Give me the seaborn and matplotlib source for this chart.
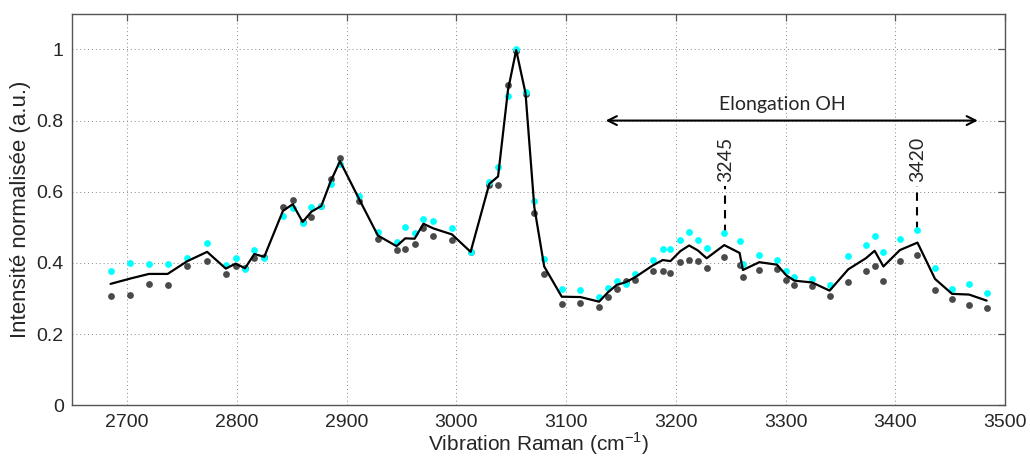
import numpy as np
import pandas as pd
import seaborn as sns
import matplotlib.pyplot as plt

# Raman shift (cm-1)
wavenumber = [2685, 2703, 2720, 2737, 2755, 2773, 2790, 2799, 2807.5, 2816,
              2825, 2842, 2851, 2860, 2868, 2877, 2885.5, 2894, 2911, 2928.5,
              2945.5, 2953.5, 2962, 2970, 2979, 2996, 3013, 3030, 3038, 3047,
              3054.5, 3063, 3071, 3080, 3096, 3113, 3130, 3138, 3146, 3154.5,
              3163, 3179, 3188, 3195, 3204, 3212, 3220, 3228, 3244, 3258,
              3261, 3276, 3292, 3300.5, 3308, 3324, 3340, 3357, 3373, 3381,
              3389, 3404, 3420, 3436, 3451.5, 3467, 3483]

# cyan points
spectre_a = [0.377, 0.401, 0.396, 0.396, 0.415, 0.457, 0.395, 0.415, 0.384, 0.436,
             0.415, 0.531, 0.553, 0.513, 0.558, 0.560, 0.622, 0.677, 0.589, 0.487,
             0.458, 0.500, 0.484, 0.522, 0.518, 0.497, 0.431, 0.627, 0.669, 0.870,
             1.000, 0.880, 0.575, 0.410, 0.326, 0.323, 0.304, 0.330, 0.349, 0.342,
             0.368, 0.408, 0.439, 0.439, 0.464, 0.488, 0.464, 0.441, 0.483, 0.462,
             0.398, 0.423, 0.408, 0.377, 0.361, 0.354, 0.337, 0.420, 0.451, 0.475,
             0.431, 0.467, 0.492, 0.385, 0.326, 0.342, 0.314]

# dark grey points
spectre_b = [0.306, 0.310, 0.341, 0.337, 0.391, 0.405, 0.369, 0.391, 0.385, 0.415,
             0.417, 0.558, 0.577, 0.515, 0.530, 0.560, 0.636, 0.694, 0.574, 0.466,
             0.436, 0.438, 0.452, 0.499, 0.475, 0.463, 0.431, 0.618, 0.618, 0.900,
             0.995, 0.875, 0.539, 0.370, 0.284, 0.286, 0.277, 0.304, 0.328, 0.350,
             0.351, 0.377, 0.377, 0.371, 0.402, 0.409, 0.406, 0.385, 0.417, 0.395,
             0.361, 0.380, 0.382, 0.352, 0.338, 0.335, 0.307, 0.345, 0.376, 0.392,
             0.349, 0.404, 0.423, 0.325, 0.299, 0.281, 0.274]

# black line
moyenne = [0.341, 0.356, 0.369, 0.369, 0.405, 0.431, 0.384, 0.398, 0.385, 0.425,
           0.417, 0.546, 0.565, 0.515, 0.544, 0.560, 0.629, 0.686, 0.582, 0.477,
           0.447, 0.469, 0.468, 0.510, 0.497, 0.480, 0.431, 0.622, 0.643, 0.885,
           0.998, 0.877, 0.557, 0.390, 0.305, 0.304, 0.291, 0.317, 0.338, 0.346,
           0.360, 0.393, 0.408, 0.405, 0.433, 0.449, 0.435, 0.413, 0.450, 0.428,
           0.380, 0.402, 0.395, 0.365, 0.350, 0.345, 0.322, 0.382, 0.413, 0.434,
           0.390, 0.436, 0.457, 0.355, 0.313, 0.311, 0.294]

pics = [3245, 3420]
pics_y = [0.483, 0.492]

df = pd.DataFrame({'x': wavenumber, 'a': spectre_a, 'b': spectre_b, 'm': moyenne})

sns.set_style("white")
plt.rcParams['font.family'] = ['Liberation Sans', 'DejaVu Sans']

fig = plt.figure(figsize=(10.3, 4.61), dpi=100)
ax = fig.add_axes([0.07, 0.121, 0.906, 0.849])

sns.scatterplot(data=df, x='x', y='b', color='#4a4a4a', s=24, linewidth=0, ax=ax, zorder=3)
sns.scatterplot(data=df, x='x', y='a', color='#00ffff', s=24, linewidth=0, ax=ax, zorder=3)
sns.lineplot(data=df, x='x', y='m', color='black', linewidth=1.6, sort=False,
             estimator=None, ax=ax, zorder=4)

ax.set_xlim(2650, 3500)
ax.set_ylim(0, 1.1)
ax.set_xticks(np.arange(2700, 3501, 100))
ax.set_yticks([0, 0.2, 0.4, 0.6, 0.8, 1])
ax.set_yticklabels(['0', '0.2', '0.4', '0.6', '0.8', '1'])
ax.grid(True, linestyle=(0, (1, 3)), color='#888888', linewidth=0.7)
for s in ax.spines.values():
    s.set_color('#555555')
    s.set_linewidth(1.0)
ax.tick_params(direction='in', length=5, width=0.9, color='#555555',
               top=True, right=True, labelsize=14, pad=6)

ax.set_xlabel('Vibration Raman (cm$^{\\mathregular{-1}}$)', fontsize=15, labelpad=0)
ax.set_ylabel('Intensité normalisée (a.u.)', fontsize=16, labelpad=4)

# zone d'elongation OH
ax.annotate('', xy=(3136, 0.8), xytext=(3475, 0.8),
            arrowprops=dict(arrowstyle='<->', color='black', lw=1.5,
                            shrinkA=0, shrinkB=0, mutation_scale=16))
ax.text(3297, 0.82, 'Elongation OH', family=['Lato', 'DejaVu Sans'],
        fontsize=14, ha='center', va='bottom')

for p, py in zip(pics, pics_y):
    ax.plot([p, p], [py, 0.615], color='black', linestyle=(0, (4, 3)), linewidth=1.5)
    ax.text(p, 0.627, str(p), rotation=90, family=['Lato', 'DejaVu Sans'],
            fontsize=14, ha='center', va='bottom')

fig.savefig('out.png', dpi=100)
